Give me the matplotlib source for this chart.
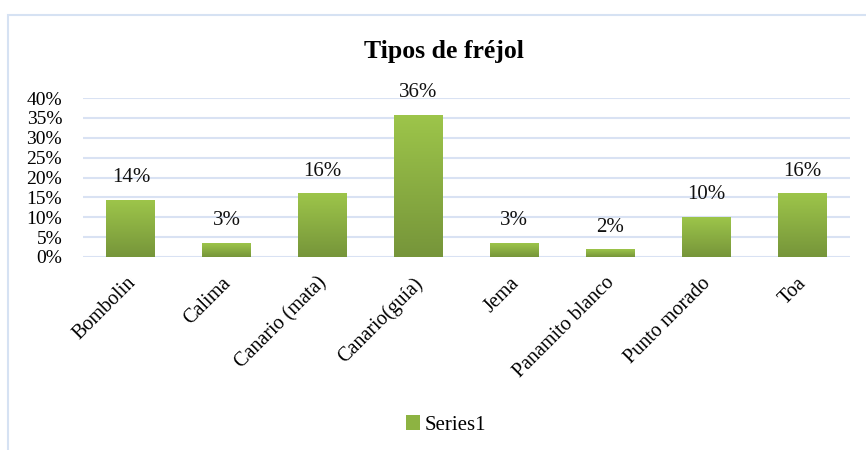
"""
Tipos de fréjol - column chart with gradient bars.
"""

import numpy as np
import matplotlib
matplotlib.use('Agg')
import matplotlib.pyplot as plt
from matplotlib.patches import Rectangle
from matplotlib.colors import LinearSegmentedColormap
from matplotlib.ticker import FuncFormatter
from matplotlib.transforms import ScaledTranslation

# Data
categories = ['Bombolin', 'Calima', 'Canario (mata)', 'Canario(guía)',
              'Jema', 'Panamito blanco', 'Punto morado', 'Toa']
values = [0.143, 0.034, 0.159, 0.357, 0.034, 0.018, 0.100, 0.159]
y_ticks = [0, 0.05, 0.10, 0.15, 0.20, 0.25, 0.30, 0.35, 0.40]
series_name = 'Series1'

plt.rcParams['font.family'] = ['Liberation Serif', 'DejaVu Serif']

fig = plt.figure(figsize=(8.66, 4.5), dpi=100)
ax = fig.add_axes([0.0958, 0.429, 0.8857, 0.353])

# light blue outer frame (only left/top visible in the image)
fig.patches.append(Rectangle((0.0095, -0.2), 1.5, 0.2 + (450 - 15) / 450,
                             transform=fig.transFigure, fill=False,
                             edgecolor='#D6E2F3', linewidth=1.5, zorder=0))

grid_color = '#D9E2F3'
for t in y_ticks:
    ax.axhline(t, color=grid_color, lw=1.5, zorder=1)

cmap = LinearSegmentedColormap.from_list('grn', ['#76953A', '#9DC54A'])
grad = np.linspace(0, 1, 256).reshape(-1, 1)
width = 0.51
x = np.arange(len(categories))

for xi, v in zip(x, values):
    # faint shadow under each bar
    ax.add_patch(Rectangle((xi - width / 2 + 0.01, -0.004), width, 0.004,
                           color='#9A9A9A', alpha=0.45, lw=0, zorder=2))
    ax.imshow(grad, cmap=cmap, origin='lower', aspect='auto',
              extent=(xi - width / 2, xi + width / 2, 0, v), zorder=3)
    ax.text(xi, v + 0.033, f'{v * 100:.0f}%', ha='center', va='bottom',
            fontsize=15, color='#111111')

ax.set_xlim(-0.5, len(categories) - 0.5)
ax.set_ylim(0, 0.40)
ax.set_yticks(y_ticks)
ax.yaxis.set_major_formatter(FuncFormatter(lambda v, p: f'{v * 100:.0f}%'))
ax.tick_params(axis='y', length=0, pad=15, labelsize=14)
ax.set_xticks(x)
ax.set_xticklabels(categories, rotation=45, ha='right', rotation_mode='anchor',
                   fontsize=14.5)
ax.tick_params(axis='x', length=0, pad=12)
shift = ScaledTranslation(-5 / 100, 0, fig.dpi_scale_trans)
for lbl in ax.get_xticklabels():
    lbl.set_transform(lbl.get_transform() + shift)
for s in ax.spines.values():
    s.set_visible(False)
ax.set_facecolor('none')

fig.text(0.513, 0.885, 'Tipos de fréjol', ha='center', va='center',
         fontsize=18.5, fontweight='bold')

# legend
handle = Rectangle((0, 0), 1, 1, facecolor='#8DB342', edgecolor='none')
fig.legend([handle], [series_name], loc='center', bbox_to_anchor=(0.515, 0.055),
           frameon=False, fontsize=15, handlelength=0.7, handleheight=0.7,
           handletextpad=0.2)

plt.savefig('out.png', dpi=100)
print("Saved: out.png")
